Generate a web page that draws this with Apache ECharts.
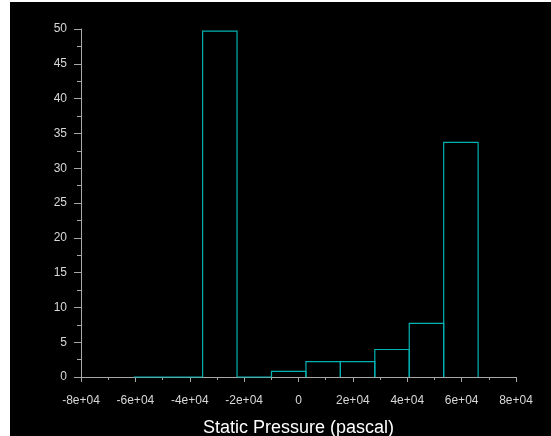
<!DOCTYPE html>
<html>
<head>
<meta charset="utf-8">
<style>
  html, body { margin: 0; padding: 0; background: #ffffff; width: 551px; height: 436px; overflow: hidden; }
  #chart { position: absolute; left: 10px; top: 2px; width: 541px; height: 434px; background: #000000; }
</style>
<script src="https://cdn.jsdelivr.net/npm/echarts@6/dist/echarts.min.js"></script>
</head>
<body>
<div id="chart"></div>
<script>
// Histogram bin edges (pascal) and counts
var binEdges = [-60600, -47930, -35260, -22600, -9930, 2740, 15400, 28070, 40740, 53400, 66070];
var binCounts = [0, 0, 49.7, 0, 0.8, 2.2, 2.2, 3.95, 7.7, 33.7];
var xTickLabels = {"-80000": "-8e+04", "-60000": "-6e+04", "-40000": "-4e+04", "-20000": "-2e+04",
                   "0": "0", "20000": "2e+04", "40000": "4e+04", "60000": "6e+04", "80000": "8e+04"};
var xAxisTitle = "Static Pressure (pascal)";

var barData = [];
for (var i = 0; i < binCounts.length; i++) {
  barData.push([binEdges[i], binEdges[i + 1], binCounts[i]]);
}

var chart = echarts.init(document.getElementById('chart'), null, { renderer: 'canvas' });
var axisColor = '#a8a8a8';
var labelColor = '#d8d8d8';
var barColor = '#00b2b2';
var font = 'Liberation Sans, Arial, sans-serif';

chart.setOption({
  backgroundColor: '#000000',
  animation: false,
  grid: { left: 71, top: 27, width: 435, height: 348, containLabel: false, outerBoundsMode: 'none' },
  xAxis: {
    type: 'value', min: -80000, max: 80000, interval: 20000,
    name: xAxisTitle, nameLocation: 'middle', nameGap: 42,
    nameTextStyle: { color: '#ffffff', fontSize: 18, fontFamily: font },
    axisLine: { show: true, onZero: false, lineStyle: { color: axisColor, width: 1 } },
    axisTick: { show: true, inside: false, length: 5, lineStyle: { color: axisColor } },
    minorTick: { show: true, splitNumber: 2, length: 3, lineStyle: { color: axisColor } },
    axisLabel: { color: labelColor, fontSize: 12, fontFamily: font, margin: 18,
      formatter: function (v) { return xTickLabels[String(v)] !== undefined ? xTickLabels[String(v)] : ''; } },
    splitLine: { show: false }
  },
  yAxis: {
    type: 'value', min: 0, max: 50, interval: 5,
    axisLine: { show: true, onZero: false, lineStyle: { color: axisColor, width: 1 } },
    axisTick: { show: true, inside: false, length: 7, lineStyle: { color: axisColor } },
    minorTick: { show: true, splitNumber: 2, length: 4, lineStyle: { color: axisColor } },
    axisLabel: { color: labelColor, fontSize: 12, fontFamily: font, margin: 14 },
    splitLine: { show: false }
  },
  series: [{
    type: 'custom',
    data: barData,
    encode: { x: [0, 1], y: 2 },
    clip: false,
    z: 5,
    renderItem: function (params, api) {
      var p0 = api.coord([api.value(0), 0]);
      var p1 = api.coord([api.value(1), api.value(2)]);
      var pts;
      if (api.value(2) === 0) {
        pts = [[p0[0], p0[1]], [p1[0], p0[1]]];
      } else {
        pts = [[p0[0], p0[1]], [p0[0], p1[1]], [p1[0], p1[1]], [p1[0], p0[1]]];
      }
      return {
        type: 'polyline',
        shape: { points: pts },
        style: { stroke: barColor, lineWidth: 1.2, fill: null }
      };
    }
  }]
});
</script>
</body>
</html>
